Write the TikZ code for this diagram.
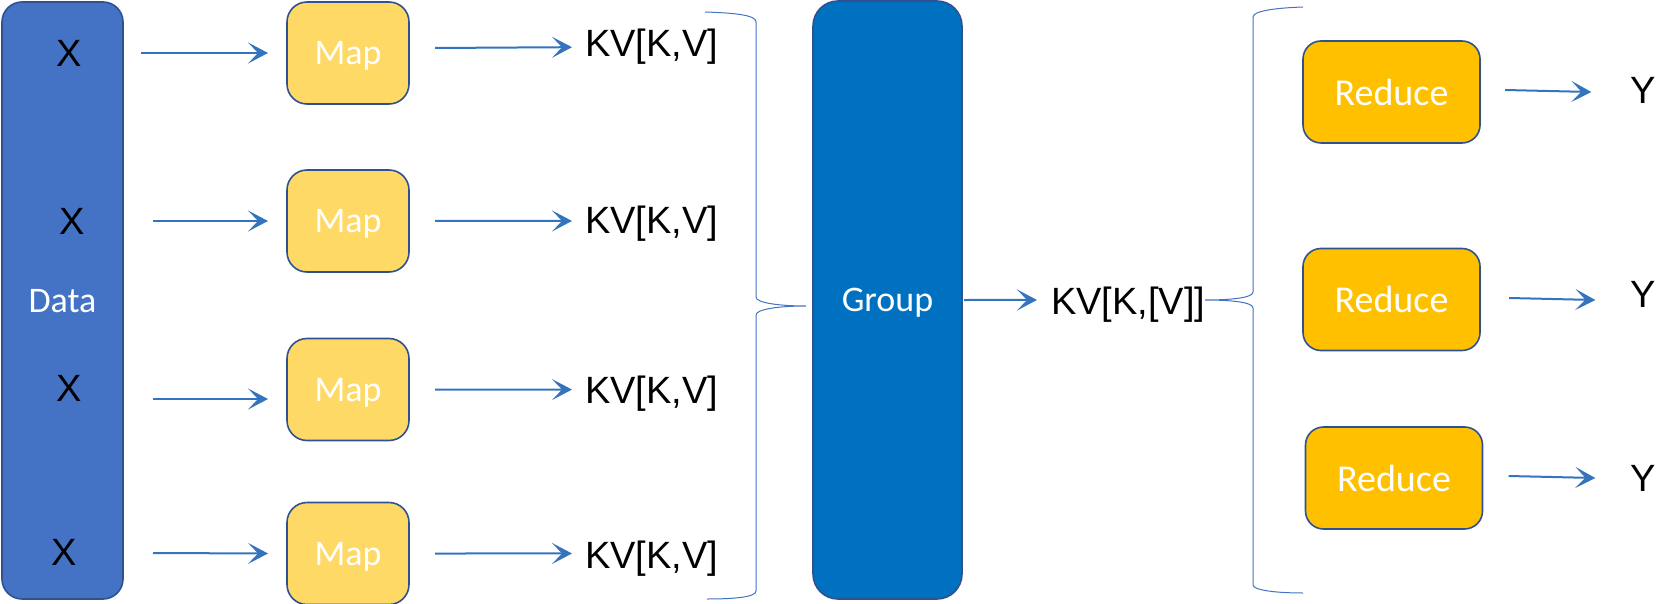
\documentclass[tikz,border=0pt]{standalone}
\usepackage{fontspec}
\setmainfont{Liberation Sans}
\newfontfamily\calibri{Carlito}
\usetikzlibrary{arrows.meta}
\definecolor{datablue}{HTML}{4472C4}
\definecolor{groupblue}{HTML}{0070C0}
\definecolor{edgeblue}{HTML}{2F528F}
\definecolor{mapyellow}{HTML}{FFD966}
\definecolor{redgold}{HTML}{FFC000}
\definecolor{arrowblue}{HTML}{3474BE}
\begin{document}
\begin{tikzpicture}[x=0.5pt, y=-0.5pt,
    box/.style={draw=edgeblue, line width=0.8pt, rounded corners=10pt, inner sep=0pt, outer sep=0pt, text depth=0pt, text=white, font=\calibri\fontsize{18pt}{18pt}\selectfont},
    mapbox/.style={box, fill=mapyellow, minimum width=61pt, minimum height=51pt},
    redbox/.style={box, fill=redgold, rounded corners=9pt, minimum width=88.5pt, minimum height=51pt, font=\calibri\fontsize{19pt}{19pt}\selectfont},
    lbl/.style={inner sep=0pt, outer sep=0pt, font=\fontsize{19pt}{19pt}\selectfont},
    flow/.style={arrowblue, line width=1pt, -{Stealth[length=10pt, width=10.5pt, inset=5pt]}},
    brace/.style={datablue, line width=0.5pt}]
            \useasboundingbox (0,0) rectangle (1679,604);
            \node[box, fill=datablue, minimum width=60.5pt, minimum height=298.5pt] (data) at (62.5,300.5) {Data};
            \node[lbl] (x1) at (69,53) {X};
            \node[lbl] (x2) at (72,221) {X};
            \node[lbl] (x3) at (69,388.5) {X};
            \node[lbl] (x4) at (64,552) {X};
            \node[mapbox] (map1) at (348,53) {Map};
            \node[mapbox] (map2) at (348,221) {Map};
            \node[mapbox] (map3) at (348,389.5) {Map};
            \node[mapbox] (map4) at (348,553.5) {Map};
            \node[lbl, anchor=base west] (kv1) at (585,57) {KV[K,V]};
            \node[lbl, anchor=base west] (kv2) at (585,234) {KV[K,V]};
            \node[lbl, anchor=base west] (kv3) at (585,403) {KV[K,V]};
            \node[lbl, anchor=base west] (kv4) at (585,568) {KV[K,V]};
            \node[box, fill=groupblue, rounded corners=12.5pt, minimum width=74.5pt, minimum height=299pt] (group) at (887.5,300) {Group};
            \node[lbl, anchor=base west] (kvg) at (1051,314) {KV[K,[V]]};
            \node[redbox] (red1) at (1391.5,92) {Reduce};
            \node[redbox] (red2) at (1391.5,299.5) {Reduce};
            \node[redbox] (red3) at (1394,478) {Reduce};
            \node[lbl] (y1) at (1643,90.5) {Y};
            \node[lbl] (y2) at (1643,294) {Y};
            \node[lbl] (y3) at (1643,478) {Y};
            \draw[flow] ([xshift=36pt]x1.center) -- ([xshift=-9.5pt]map1.west);
            \draw[flow] ([xshift=40.5pt]x2.center) -- ([xshift=-9.5pt]map2.west);
            \draw[flow] ([xshift=42pt, yshift=-5.25pt]x3.center) -- ([xshift=-9.5pt, yshift=-4.75pt]map3.west);
            \draw[flow] ([xshift=44.5pt, yshift=-0.5pt]x4.center) -- ([xshift=-9.5pt]map4.west);
            \draw[flow] ([xshift=13pt, yshift=2.5pt]map1.east) -- ([xshift=-6.5pt]kv1.west);
            \draw[flow] ([xshift=13pt]map2.east) -- ([xshift=-6.5pt, yshift=1.6pt]kv2.west);
            \draw[flow] ([xshift=13pt]map3.east) -- ([xshift=-6.5pt, yshift=1.8pt]kv3.west);
            \draw[flow] ([xshift=13pt]map4.east) -- ([xshift=-6.5pt, yshift=2.35pt]kv4.west);
            \draw[brace] (705,12) .. controls (735,13) and (756,15) .. (756,22) -- (756,297)
                .. controls (756,303) and (780,306) .. (806,306)
                .. controls (780,306) and (756,309) .. (756,315) -- (756,591)
                .. controls (756,597) and (735,599) .. (707,599);
            \draw[flow] ([xshift=1pt]group.east) -- ([xshift=-7pt, yshift=2.1pt]kvg.west);
            \draw[brace] (1303,7) .. controls (1275,8) and (1253,11) .. (1253,17) -- (1253,292)
                .. controls (1253,298) and (1230,300) .. (1205,300)
                .. controls (1230,300) and (1253,302) .. (1253,308) -- (1253,585)
                .. controls (1253,590) and (1275,593) .. (1303,593);
            \draw[flow] ([xshift=12.5pt, yshift=1pt]red1.east) -- ([xshift=-19.5pt, yshift=-0.75pt]y1.west);
            \draw[flow] ([xshift=14.5pt, yshift=0.75pt]red2.east) -- ([xshift=-17.5pt, yshift=-3pt]y2.west);
            \draw[flow] ([xshift=13pt, yshift=1pt]red3.east) -- ([xshift=-17.5pt]y3.west);
        \end{tikzpicture}
\end{document}
